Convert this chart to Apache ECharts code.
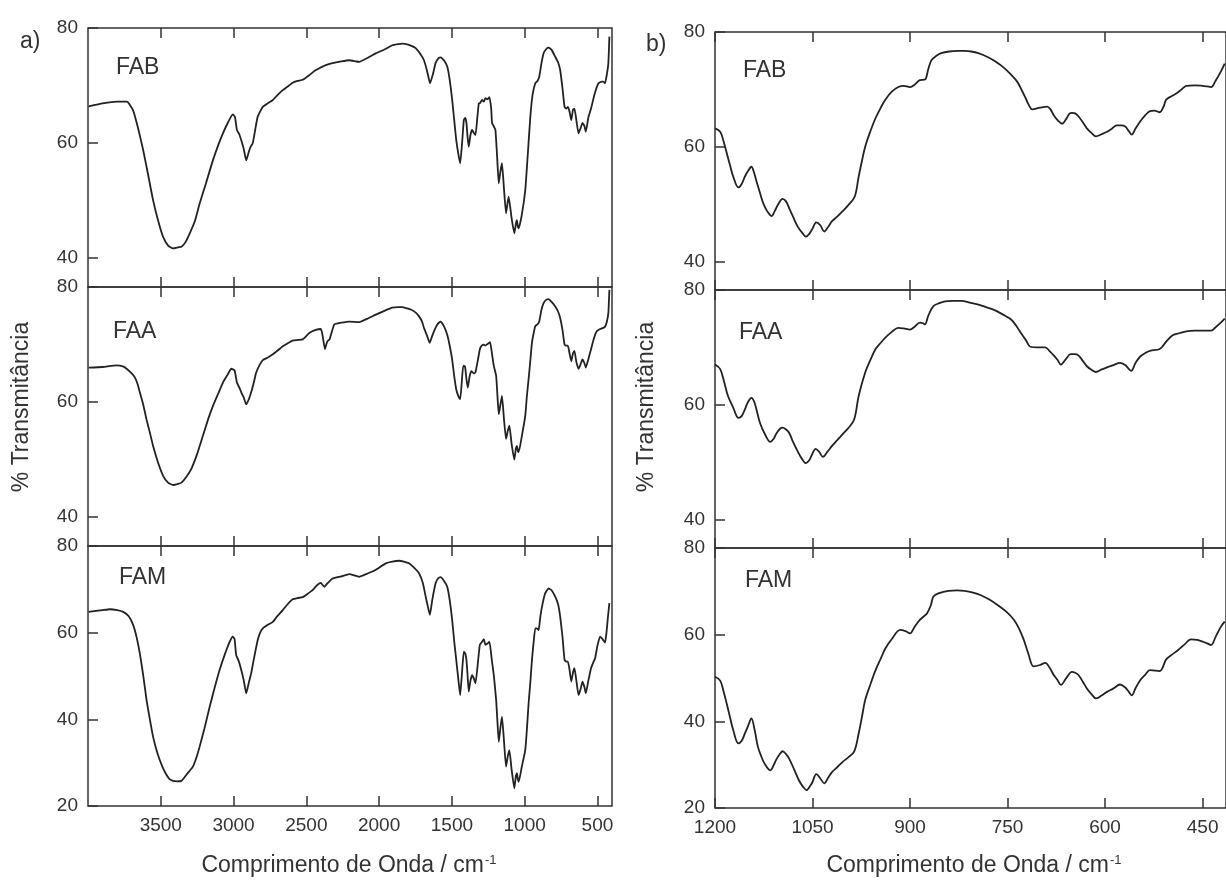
<!DOCTYPE html>
<html>
<head>
<meta charset="utf-8">
<script src="https://cdn.jsdelivr.net/npm/echarts@6/dist/echarts.min.js"></script>
<style>
html,body{margin:0;padding:0;background:#fff;}
#chart{width:1226px;height:880px;}
</style>
</head>
<body>
<div id="chart"></div>
<script>
// ---------- Panel a) full range spectra (wavenumber, %T) ----------
const fabA_wn = [3995,3900,3800,3733,3690,3655,3621,3587,3553,3518,3484,3450,3416,3380,3358,3330,3301,3265,3233,3190,3142,3100,3073,3040,3005,2990,2977,2960,2947,2930,2913,2895,2880,2868,2850,2834,2799,2760,2730,2700,2662,2630,2594,2560,2525,2480,2440,2411,2370,2320,2260,2205,2160,2137,2080,2023,1960,1909,1870,1840,1800,1770,1749,1720,1692,1670,1650,1630,1612,1590,1578,1555,1532,1515,1498,1484,1470,1455,1443,1430,1418,1408,1400,1392,1384,1372,1361,1350,1338,1325,1315,1305,1293,1280,1270,1255,1242,1230,1224,1210,1201,1190,1178,1167,1156,1142,1128,1118,1110,1090,1071,1060,1053,1047,1041,1020,996,980,961,945,927,912,900,885,870,850,836,815,790,770,756,740,726,715,703,692,680,668,658,645,630,617,603,590,580,562,544,520,493,470,459,448,435,425,418];
const fabA_T  = [66.4,66.9,67.2,67.2,65.7,62.5,58.8,54.5,50.1,46.5,43.7,42.2,41.7,41.9,42.0,42.8,44.3,46.5,49.5,53.0,57.0,60.0,61.7,63.5,65.0,64.5,62.3,61.5,60.5,59.0,57.0,58.5,59.5,60.0,62.5,64.6,66.3,67.0,67.5,68.3,69.2,69.8,70.5,70.8,71.0,71.8,72.6,73.0,73.5,73.9,74.2,74.4,74.2,74.1,74.8,75.6,76.3,77.0,77.2,77.3,77.1,76.8,76.5,75.6,74.4,72.5,70.4,72.0,73.9,74.8,74.9,74.4,73.3,71.0,67.5,64.0,60.5,58.0,56.5,60.0,64.0,64.4,63.5,61.0,59.4,61.5,62.3,61.8,61.4,64.5,66.9,67.0,67.5,67.2,67.8,67.6,68.0,66.0,63.5,62.8,62.3,58.0,53.0,55.0,56.5,52.0,47.8,49.5,50.7,47.0,44.3,46.0,46.6,45.5,45.2,47.5,51.8,57.5,64.6,68.5,70.4,70.8,71.5,73.8,75.6,76.4,76.6,76.2,75.0,74.0,72.7,69.5,66.3,66.0,66.3,65.5,64.0,65.8,66.0,64.0,61.7,62.5,63.5,63.0,62.0,64.5,66.0,68.5,70.4,70.7,70.7,70.4,72.0,73.9,78.5];

const faaA_wn = [3995,3900,3803,3760,3735,3700,3678,3660,3644,3620,3598,3575,3553,3520,3484,3450,3416,3380,3358,3325,3290,3250,3210,3175,3142,3105,3073,3040,3016,2993,2977,2960,2947,2930,2913,2895,2879,2860,2845,2820,2799,2760,2730,2695,2662,2630,2594,2560,2525,2480,2440,2400,2388,2372,2363,2354,2340,2308,2260,2205,2137,2080,2023,1960,1909,1870,1840,1810,1783,1750,1726,1705,1692,1670,1653,1638,1623,1600,1578,1555,1532,1515,1498,1484,1470,1455,1443,1432,1422,1410,1400,1391,1378,1366,1350,1338,1320,1308,1295,1281,1270,1255,1238,1225,1212,1196,1188,1178,1167,1156,1142,1128,1116,1105,1090,1071,1060,1053,1047,1041,1020,996,985,973,960,950,938,927,912,900,885,870,850,836,815,790,770,756,740,726,715,703,692,680,668,658,645,630,617,603,590,580,562,544,525,505,482,460,448,435,425,418];
const faaA_T  = [66.0,66.1,66.4,66.2,65.8,65.0,64.3,63.2,61.7,59.5,57.0,54.7,52.4,49.6,47.2,46.0,45.6,45.8,46.0,47.0,48.4,51.0,54.2,57.0,59.3,61.5,63.4,64.8,65.8,65.5,63.4,62.5,61.7,60.8,59.6,60.5,61.7,63.5,65.1,66.5,67.3,67.8,68.3,69.0,69.7,70.2,70.7,70.8,70.9,72.0,72.5,72.7,71.5,69.2,70.0,70.6,70.9,73.5,73.8,74.0,73.9,74.5,75.2,75.9,76.4,76.5,76.5,76.3,76.1,75.6,74.9,74.0,72.9,71.5,70.3,71.3,72.3,73.5,74.0,73.2,71.7,69.8,67.4,64.5,62.2,61.0,60.5,63.5,66.3,66.2,64.0,62.5,64.5,65.4,65.0,65.2,67.5,69.2,69.8,70.0,69.8,70.1,70.4,68.5,66.3,64.6,61.5,57.9,59.5,61.1,57.0,53.6,55.0,55.9,52.8,50.0,52.0,52.4,51.5,51.3,54.0,57.6,61.0,64.0,67.5,70.3,72.0,73.2,73.5,74.0,76.0,77.2,77.8,77.9,77.4,76.6,75.7,74.6,72.5,70.0,69.8,69.8,68.5,67.1,68.5,68.9,67.0,65.8,66.5,67.4,66.8,66.0,67.5,69.2,71.0,72.3,72.7,72.9,73.1,74.0,75.5,79.5];

const famA_wn = [3995,3900,3849,3800,3758,3720,3690,3665,3644,3620,3598,3575,3553,3530,3507,3484,3461,3440,3416,3385,3358,3340,3324,3300,3279,3255,3233,3200,3164,3130,3096,3060,3027,3005,2993,2982,2965,2947,2930,2913,2895,2879,2860,2834,2815,2799,2765,2730,2700,2662,2630,2594,2560,2525,2490,2457,2425,2400,2388,2377,2360,2320,2260,2205,2137,2090,2046,2000,1954,1910,1863,1830,1795,1760,1726,1700,1680,1665,1651,1635,1612,1595,1578,1555,1532,1515,1498,1484,1470,1455,1443,1430,1418,1408,1400,1392,1384,1372,1361,1350,1338,1320,1308,1295,1281,1270,1255,1242,1225,1212,1196,1188,1178,1167,1156,1142,1128,1116,1105,1090,1071,1060,1053,1047,1041,1020,996,985,973,960,950,938,927,915,904,893,881,860,836,815,790,770,756,740,726,715,703,692,680,668,658,645,630,617,603,590,580,562,544,530,516,500,482,465,448,438,430,418];
const famA_T  = [64.8,65.2,65.4,65.2,64.8,63.8,61.8,58.8,55.2,50.0,44.5,40.0,36.0,33.0,30.6,28.7,27.2,26.2,25.8,25.7,25.8,26.5,27.2,28.2,29.1,31.2,33.7,37.9,42.9,47.3,51.4,55.0,57.9,59.1,58.5,54.8,53.5,51.4,49.0,46.0,48.5,50.6,54.0,58.3,60.2,61.0,61.8,62.5,63.8,65.2,66.5,67.7,68.0,68.2,69.0,69.8,71.0,71.5,71.0,70.6,71.2,72.5,73.0,73.5,72.9,73.5,74.1,75.0,76.0,76.4,76.6,76.4,76.0,75.0,73.7,71.5,68.3,66.0,64.1,67.5,71.4,72.5,72.8,72.0,70.6,67.5,62.9,58.0,53.7,49.0,45.6,51.0,55.6,55.2,53.7,50.0,46.4,49.0,50.2,49.5,48.3,53.5,57.2,57.8,58.5,57.2,57.5,57.9,53.5,50.2,44.5,40.0,34.8,38.0,40.6,35.0,29.1,31.5,32.9,28.5,24.1,27.0,27.6,26.2,25.6,29.0,32.9,37.5,43.7,49.0,53.7,58.0,61.0,61.0,60.6,63.5,66.0,69.0,70.2,69.8,68.3,66.5,63.7,59.0,53.7,53.3,53.3,51.5,48.7,50.8,51.8,49.0,45.6,46.8,48.7,47.5,46.0,49.0,51.8,53.0,54.1,57.0,59.1,58.5,57.7,60.0,62.9,66.8];

// ---------- Panel b) 1200-420 cm-1 region ----------
const fabB_wn = [1200,1192,1187,1182,1177,1172,1164,1159,1154,1149,1144,1140,1136,1131,1126,1120,1113,1108,1103,1096,1091,1086,1080,1073,1066,1060,1055,1051,1044,1038,1032,1026,1020,1012,1004,995,985,979,974,969,961,953,945,938,928,918,910,900,893,885,877,872,867,860,852,840,826,815,806,795,780,768,755,745,735,728,722,717,712,700,689,684,679,672,666,660,655,651,646,641,634,628,621,614,605,597,590,582,575,569,564,559,553,546,538,531,524,516,510,506,498,490,482,475,462,450,443,437,430,422,416];
const fabB_T  = [63.2,62.6,61.0,58.9,56.8,54.8,52.9,53.5,54.8,55.8,56.5,55.5,53.9,52.0,50.2,48.8,47.9,48.8,49.9,50.9,50.5,49.3,47.8,46.1,45.0,44.3,44.8,45.5,46.8,46.3,45.2,46.0,47.0,47.8,48.7,49.8,51.3,54.8,57.5,60.0,62.7,65.0,66.8,68.2,69.6,70.4,70.6,70.4,70.8,71.6,71.7,73.5,75.1,75.8,76.3,76.6,76.7,76.7,76.6,76.3,75.6,74.8,73.7,72.6,71.3,69.8,68.4,67.2,66.5,66.8,67.0,66.5,65.5,64.5,64.0,64.8,65.7,65.9,65.8,65.3,64.2,63.2,62.4,61.8,62.2,62.6,63.1,63.7,63.7,63.5,62.8,62.1,63.2,64.4,65.5,66.2,66.3,66.0,67.0,68.2,68.8,69.3,70.0,70.6,70.7,70.6,70.5,70.4,71.5,73.1,74.5];

const faaB_wn = [1200,1192,1186,1180,1172,1164,1159,1154,1149,1144,1139,1131,1123,1115,1110,1106,1100,1096,1091,1086,1080,1073,1066,1060,1055,1052,1045,1040,1034,1027,1020,1012,1004,995,986,979,969,961,953,945,938,928,918,910,900,893,885,880,877,872,864,855,846,835,821,808,796,783,770,757,745,737,730,722,715,704,692,685,679,673,668,660,653,647,641,634,628,621,614,606,597,587,577,569,564,560,553,546,538,531,516,506,496,485,475,462,450,437,430,422,416];
const faaB_T  = [67.0,66.2,64.0,61.5,59.5,57.7,58.0,59.2,60.5,61.2,60.3,56.9,54.8,53.5,54.0,54.9,55.8,56.0,55.7,55.1,53.5,51.9,50.5,49.8,50.3,51.0,52.3,51.8,50.9,51.8,52.8,53.8,54.8,55.9,57.4,61.5,65.6,67.8,69.7,70.8,71.7,72.7,73.4,73.3,73.1,73.6,74.3,74.2,74.0,75.5,77.2,77.7,78.0,78.1,78.1,77.8,77.5,77.0,76.5,75.7,74.9,73.8,72.6,71.3,70.1,70.0,70.0,69.3,68.6,67.8,67.0,68.0,68.8,68.8,68.6,67.6,66.7,66.1,65.7,66.1,66.5,66.9,67.3,66.9,66.3,65.9,67.3,68.4,69.0,69.4,69.7,71.0,72.1,72.5,72.8,72.9,72.9,72.9,73.5,74.3,75.0];

const famB_wn = [1200,1192,1187,1182,1177,1172,1164,1159,1154,1149,1144,1139,1134,1129,1124,1115,1110,1106,1100,1096,1091,1086,1078,1071,1065,1059,1055,1051,1044,1038,1032,1026,1020,1012,1004,995,986,979,974,969,961,953,945,938,928,915,907,900,893,885,879,874,868,864,855,841,828,816,803,791,778,765,752,740,732,725,718,710,700,692,685,679,673,668,660,651,646,641,634,628,621,614,606,597,587,577,569,564,559,553,546,538,531,516,506,497,488,478,468,458,450,443,437,430,422,416];
const famB_T  = [50.3,49.4,47.0,44.1,41.0,38.0,34.9,35.5,37.2,39.0,40.7,38.0,34.1,32.0,30.3,28.7,29.8,31.1,32.5,33.1,32.5,31.4,28.8,26.4,25.0,24.1,24.8,25.7,27.8,26.8,25.7,27.0,28.3,29.4,30.6,31.7,33.0,37.2,41.0,44.9,48.5,51.8,54.5,56.8,59.0,61.1,60.8,60.3,61.8,63.4,64.2,64.9,66.8,68.8,69.6,70.1,70.2,70.1,69.7,69.1,68.1,66.8,65.3,63.4,61.3,58.8,55.6,52.7,53.0,53.5,52.3,50.7,49.5,48.4,49.9,51.4,51.2,50.7,49.1,47.6,46.3,45.3,45.9,46.8,47.6,48.5,47.8,46.9,46.0,47.7,49.5,50.8,51.8,51.6,54.3,55.4,56.4,57.7,58.9,58.8,58.4,58.0,57.6,59.5,61.8,63.0];

// ---------- ticks / labels ----------
const xTicksA = [500,1000,1500,2000,2500,3000,3500];
const xTicksB = [450,600,750,900,1050,1200];
const yTicksUpper = [40,60,80];
const yTicksLower = [20,40,60,80];
const sampleNames = ['FAB','FAA','FAM'];
const yTitle = '% Transmitância';
const xTitle = 'Comprimento de Onda / cm';

// ---------- layout ----------
const AX = '#333333';
const LINE = '#222222';
const FONT = 'Liberation Sans, Arial, sans-serif';
const gridsPx = [
  {left:88, top:28,  width:524, height:259},
  {left:88, top:287, width:524, height:259},
  {left:88, top:546, width:524, height:260},
  {left:715, top:32,  width:515, height:258},
  {left:715, top:290, width:515, height:258},
  {left:715, top:548, width:515, height:260}
];
const xRange = [[400,4000],[414,1200]];
const yRange = [[35,80],[35,80],[20,80]];

const zip = (w,t) => w.map((v,i)=>[v,t[i]]);
const seriesData = [
  zip(fabA_wn,fabA_T), zip(faaA_wn,faaA_T), zip(famA_wn,famA_T),
  zip(fabB_wn,fabB_T), zip(faaB_wn,faaB_T), zip(famB_wn,famB_T)
];
const plain = v => String(Math.round(v));

const grid = [], xAxis = [], yAxis = [], series = [];
gridsPx.forEach((g,i)=>{
  const panel = i < 3 ? 0 : 1;
  const row = i % 3;
  grid.push(Object.assign({show:true, borderColor:AX, borderWidth:1.5, backgroundColor:'transparent', containLabel:false}, g));
  const xt = panel === 0 ? xTicksA : xTicksB;
  const base = {
    type:'value', gridIndex:i, inverse:true, min:xRange[panel][0], max:xRange[panel][1],
    splitLine:{show:false}, axisLine:{show:false},
    axisTick:{show:true, inside:true, length:10, lineStyle:{color:AX, width:1.5}, customValues:xt}
  };
  xAxis.push(Object.assign({}, base, {
    position:'bottom',
    axisLabel:{show: row===2, customValues:xt, formatter:plain, color:AX, fontSize:19, fontFamily:FONT, margin:10}
  }));
  xAxis.push(Object.assign({}, base, {
    position:'top', axisLabel:{show:false}
  }));
  const yt = row === 2 ? yTicksLower : yTicksUpper;
  yAxis.push({
    type:'value', gridIndex:i, min:yRange[row][0], max:yRange[row][1],
    splitLine:{show:false}, axisLine:{show:false},
    axisTick:{show:true, inside:true, length:10, lineStyle:{color:AX, width:1.5}, customValues:yt},
    axisLabel:{show:true, customValues:yt, formatter:plain, color:AX, fontSize:19, fontFamily:FONT, margin:10}
  });
  series.push({
    type:'line', xAxisIndex:i*2, yAxisIndex:i, data:seriesData[i],
    showSymbol:false, smooth: panel===0 ? 0.15 : 0.35, clip:true,
    lineStyle:{color:LINE, width:1.8}, animation:false
  });
});

const txt = (text,x,y,size,extra) => Object.assign({
  type:'text', x:x, y:y,
  style:{text:text, fill:AX, font: size+'px '+FONT, textAlign:'left', textVerticalAlign:'middle'}
}, extra||{});

const graphic = [
  txt('a)', 20, 42, 23),
  txt('b)', 646, 45, 23),
  txt(sampleNames[0], 116, 68, 23),
  txt(sampleNames[1], 113, 332, 23),
  txt(sampleNames[2], 119, 578, 23),
  txt(sampleNames[0], 743, 71, 23),
  txt(sampleNames[1], 739, 333, 23),
  txt(sampleNames[2], 745, 581, 23),
  {type:'text', x:22, y:407, rotation:Math.PI/2,
   style:{text:yTitle, fill:AX, font:'23px '+FONT, textAlign:'center', textVerticalAlign:'middle'}},
  {type:'text', x:647, y:407, rotation:Math.PI/2,
   style:{text:yTitle, fill:AX, font:'23px '+FONT, textAlign:'center', textVerticalAlign:'middle'}},
  {type:'text', x:349, y:866,
   style:{text:xTitle+'{sup|-1}', fill:AX, font:'23px '+FONT, textAlign:'center', textVerticalAlign:'middle',
          rich:{sup:{fontSize:13, fontFamily:FONT, fill:AX, verticalAlign:'top', padding:[0,0,12,1]}}}},
  {type:'text', x:974, y:866,
   style:{text:xTitle+'{sup|-1}', fill:AX, font:'23px '+FONT, textAlign:'center', textVerticalAlign:'middle',
          rich:{sup:{fontSize:13, fontFamily:FONT, fill:AX, verticalAlign:'top', padding:[0,0,12,1]}}}}
];

const chart = echarts.init(document.getElementById('chart'), null, {renderer:'canvas'});
chart.setOption({
  backgroundColor:'#ffffff',
  animation:false,
  grid, xAxis, yAxis, series, graphic
});
</script>
</body>
</html>
